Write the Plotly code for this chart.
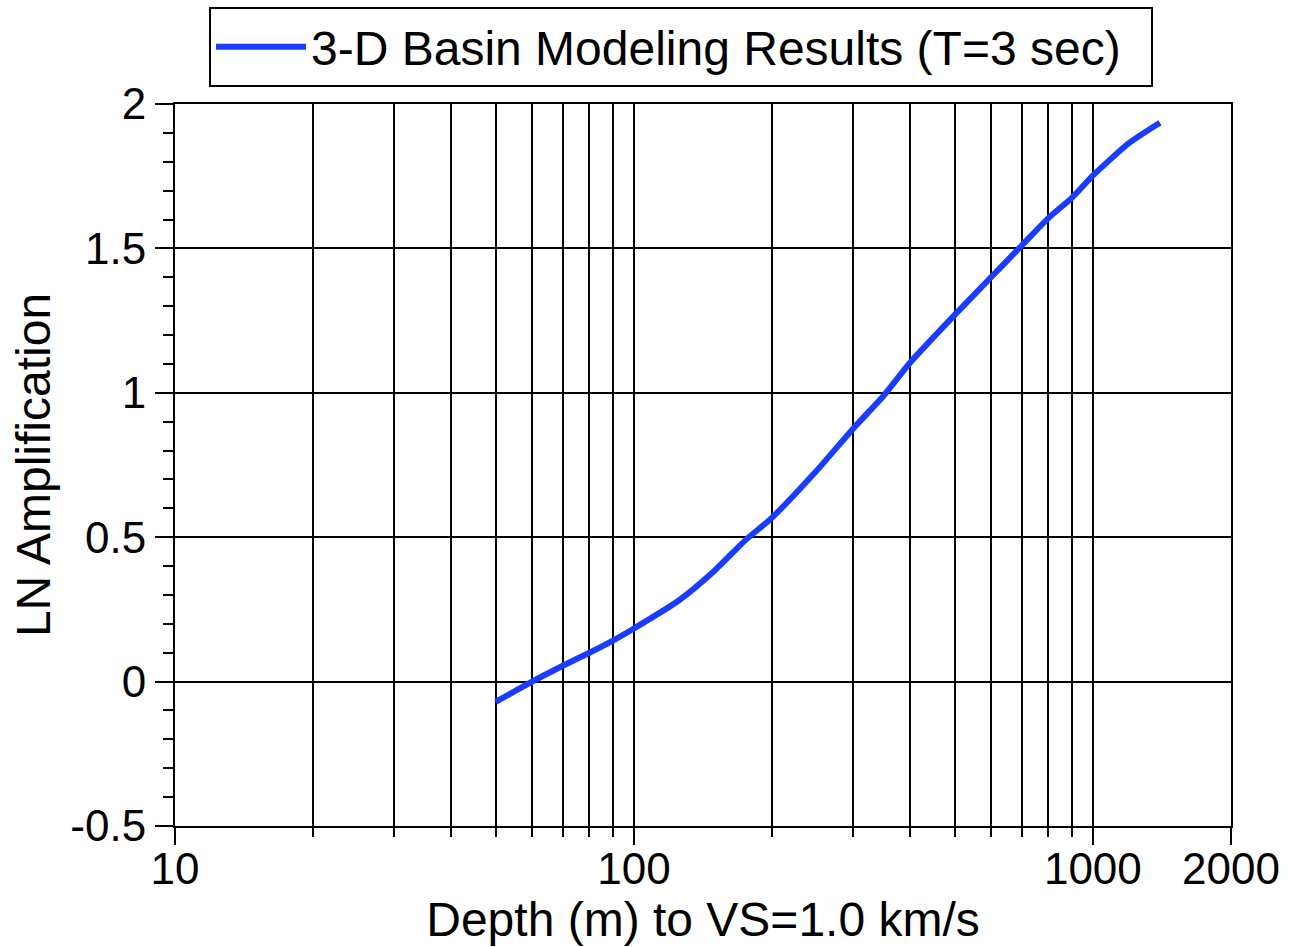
import plotly.graph_objects as go

depth_m = [50, 60, 70, 80, 90, 100, 125, 150, 175, 200, 250, 300, 350, 400,
           500, 600, 700, 800, 900, 1000, 1200, 1400]
ln_amp = [-0.07, 0.0, 0.055, 0.10, 0.142, 0.184, 0.28, 0.385, 0.49, 0.568, 0.73,
          0.875, 0.99, 1.105, 1.27, 1.40, 1.51, 1.605, 1.675, 1.752, 1.865, 1.935]

series_name = "3-D Basin Modeling Results (T=3 sec)"
x_major_ticks = [10, 100, 1000, 2000]
x_tick_text = ["10", "100", "1000", "2000"]
x_minor_ticks = [20, 30, 40, 50, 60, 70, 80, 90, 200, 300, 400, 500, 600, 700, 800, 900]
y_major_ticks = [-0.5, 0, 0.5, 1, 1.5, 2]
y_tick_text = ["-0.5", "0", "0.5", "1", "1.5", "2"]
y_minor_ticks = [round(-0.5 + 0.1 * i, 1) for i in range(26)]

FONT = "Liberation Sans, Arial, Helvetica, sans-serif"

fig = go.Figure()
fig.add_trace(go.Scatter(
    x=depth_m, y=ln_amp, mode="lines", name=series_name,
    line=dict(color="#1a3cff", width=6, shape="spline", smoothing=0.6),
    showlegend=True,
))

fig.update_layout(
    width=1289, height=947,
    margin=dict(l=175, r=58, t=104, b=121, autoexpand=False),
    paper_bgcolor="white", plot_bgcolor="white",
    font=dict(family=FONT, color="black", size=44),
    showlegend=True,
    legend=dict(
        orientation="h",
        x=(209 - 175) / 1056, xanchor="left",
        y=1 + (104 - 7) / 722, yanchor="top",
        bordercolor="black", borderwidth=2,
        font=dict(size=48, family=FONT),
        bgcolor="white",
        itemwidth=90,
        entrywidth=835, entrywidthmode="pixels",
    ),
    xaxis=dict(
        type="log", range=[1, 3.30103],
        tickmode="array", tickvals=x_major_ticks, ticktext=x_tick_text,
        ticks="outside", ticklen=17, tickwidth=2, tickcolor="black",
        showgrid=True, gridcolor="black", gridwidth=2,
        showline=True, linecolor="black", linewidth=2, mirror=True,
        zeroline=False, automargin=False,
        ticklabelstandoff=-14,
        tickfont=dict(size=44),
        title=dict(text="Depth (m) to VS=1.0 km/s", font=dict(size=48), standoff=10),
        minor=dict(tickmode="array", tickvals=x_minor_ticks, ticks="outside",
                   ticklen=9, tickwidth=2, tickcolor="black",
                   showgrid=True, gridcolor="black", gridwidth=2),
    ),
    yaxis=dict(
        range=[-0.5, 2],
        tickmode="array", tickvals=y_major_ticks, ticktext=y_tick_text,
        ticks="outside", ticklen=18, tickwidth=2, tickcolor="black",
        showgrid=True, gridcolor="black", gridwidth=2,
        showline=True, linecolor="black", linewidth=2, mirror=True,
        zeroline=False, automargin=False,
        tickfont=dict(size=44),
        title=dict(text="LN Amplification", font=dict(size=48), standoff=5),
        minor=dict(tickmode="array", tickvals=y_minor_ticks, ticks="outside",
                   ticklen=10, tickwidth=2, tickcolor="black", showgrid=False),
    ),
)

fig.write_html("out.html")
